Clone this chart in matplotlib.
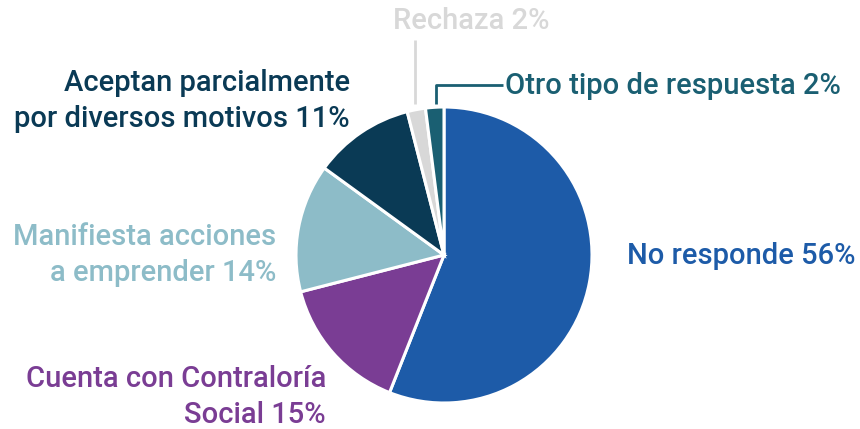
import matplotlib.pyplot as plt

# data
labels = ['No responde 56%', 'Cuenta con Contraloría\nSocial 15%', 'Manifiesta acciones\na emprender 14%',
          'Aceptan parcialmente\npor diversos motivos 11%', 'Rechaza 2%', 'Otro tipo de respuesta 2%']
values = [56, 15, 14, 11, 2, 2]
colors = ['#1d5ba8', '#7a3d94', '#8dbcc8', '#0a3a55', '#d8d8d8', '#1a5f72']

plt.rcParams['font.family'] = ['Roboto', 'DejaVu Sans']

W, H = 860, 429
fig = plt.figure(figsize=(W / 100, H / 100), dpi=100)
ax = fig.add_axes([0, 0, 1, 1])

cx, cy, r = 444, H - 255, 148
ax.pie(values, colors=colors, startangle=90, counterclock=False, center=(cx, cy), radius=r,
       wedgeprops=dict(edgecolor='white', linewidth=2.2), frame=True)
ax.set_xlim(0, W)
ax.set_ylim(0, H)
ax.set_aspect('equal')
ax.axis('off')

fs = 21
kw = dict(fontsize=fs, fontweight='medium', linespacing=1.32)

# label positions (pixels, y from top)
ax.text(627, H - 256, labels[0], color=colors[0], ha='left', va='center', **kw)
ax.text(326, H - 397, labels[1], color=colors[1], ha='right', va='center', **kw)
ax.text(276, H - 255, labels[2], color=colors[2], ha='right', va='center', **kw)
ax.text(350, H - 101, labels[3], color=colors[3], ha='right', va='center', **kw)
ax.text(393, H - 21, labels[4], color=colors[4], ha='left', va='center', **kw)
ax.text(505, H - 86, labels[5], color=colors[5], ha='left', va='center', **kw)

# leader lines
ax.plot([415, 415], [H - 40, H - 104], color=colors[4], lw=2, solid_capstyle='butt')
ax.plot([436, 436, 503], [H - 104, H - 85, H - 85], color=colors[5], lw=2, solid_capstyle='butt')

fig.savefig('out.png', dpi=100)
